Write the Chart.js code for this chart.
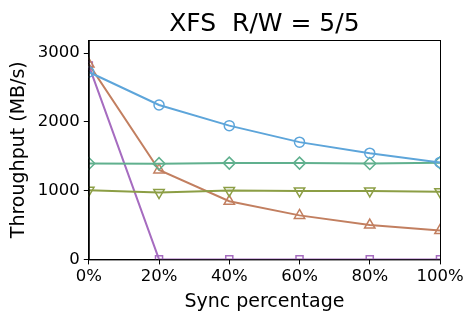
<!DOCTYPE html>
<html>
<head>
<meta charset="utf-8">
<script src="https://cdn.jsdelivr.net/npm/chart.js@4"></script>
<style>
  html, body { margin: 0; padding: 0; background: #fff; }
  #wrap { width: 475px; height: 322px; }
</style>
</head>
<body>
<div id="wrap"><canvas id="grafico"></canvas></div>
<script>
// Datos
const syncPct = [0, 20, 40, 60, 80, 100];
const xTicks = [0, 20, 40, 60, 80, 100];
const yTicks = [0, 1000, 2000, 3000];
const serieAzul = [2725, 2245, 1945, 1705, 1545, 1410];
const serieVerde = [1395, 1392, 1400, 1400, 1395, 1405];
const serieOliva = [1005, 972, 1000, 995, 995, 985];
const serieMarron = [2840, 1300, 845, 640, 500, 420];
const seriePurpura = [2820, 0, 0, 0, 0, 0];
const titulo = 'XFS  R/W = 5/5';

function puntos(vals) {
    return syncPct.map((x, i) => ({ x: x, y: vals[i] }));
}

function serie(vals, color, estilo, rot, radio) {
    return {
        data: puntos(vals),
        borderColor: color,
        backgroundColor: 'transparent',
        pointBorderColor: color,
        pointBackgroundColor: 'transparent',
        pointStyle: estilo,
        pointRotation: rot,
        pointRadius: radio,
        pointBorderWidth: 1.5,
        borderWidth: 2,
        tension: 0,
        clip: 0
    };
}

const fuente = "'DejaVu Sans', sans-serif";

// Marco completo alrededor del area y titulo centrado sobre ella
const marco = {
    id: 'marco',
    afterDraw(chart) {
        const a = chart.chartArea;
        const c = chart.ctx;
        c.save();
        c.strokeStyle = '#000';
        c.lineWidth = 1;
        c.strokeRect(a.left + 0.5, a.top + 0.5, a.right - a.left, a.bottom - a.top);
        c.fillStyle = '#000';
        c.font = "25px " + fuente;
        c.textAlign = 'center';
        c.textBaseline = 'alphabetic';
        c.fillText(titulo, (a.left + a.right) / 2, 31);
        c.restore();
    }
};

new Chart(document.getElementById('grafico'), {
    type: 'line',
    data: {
        datasets: [
            serie(serieAzul, '#5DA5DA', 'circle', 0, 5),
            serie(serieVerde, '#60B08E', 'rectRot', 0, 6),
            serie(serieOliva, '#8C9E45', 'triangle', 180, 6),
            serie(serieMarron, '#C27F60', 'triangle', 0, 6),
            serie(seriePurpura, '#A66CC0', 'rect', 0, 5)
        ]
    },
    plugins: [marco],
    options: {
        responsive: true,
        maintainAspectRatio: false,
        animation: false,
        layout: { padding: { left: 8, right: 35, top: 40, bottom: 9 } },
        plugins: {
            legend: { display: false },
            tooltip: { enabled: false },
            title: { display: false }
        },
        scales: {
            x: {
                type: 'linear',
                min: 0,
                max: 100,
                afterBuildTicks: (ax) => { ax.ticks = xTicks.map(v => ({ value: v })); },
                ticks: {
                    color: '#000',
                    font: { family: fuente, size: 16.5 },
                    padding: 2,
                    maxRotation: 0,
                    callback: (v) => v + '%'
                },
                grid: { drawOnChartArea: false, color: '#000', tickLength: 5 },
                border: { display: true, color: '#000' },
                title: {
                    display: true,
                    text: 'Sync percentage',
                    color: '#000',
                    font: { family: fuente, size: 19 },
                    padding: { top: 2, bottom: 0 }
                }
            },
            y: {
                min: 0,
                max: 3190,
                afterBuildTicks: (ax) => { ax.ticks = yTicks.map(v => ({ value: v })); },
                ticks: {
                    color: '#000',
                    font: { family: fuente, size: 16.5 },
                    padding: 4,
                    callback: (v) => String(v)
                },
                grid: { drawOnChartArea: false, color: '#000', tickLength: 5 },
                border: { display: true, color: '#000' },
                title: {
                    display: true,
                    text: 'Throughput (MB/s)',
                    color: '#000',
                    font: { family: fuente, size: 19 },
                    padding: { top: 0, bottom: 3 }
                }
            }
        }
    }
});
</script>
</body>
</html>
